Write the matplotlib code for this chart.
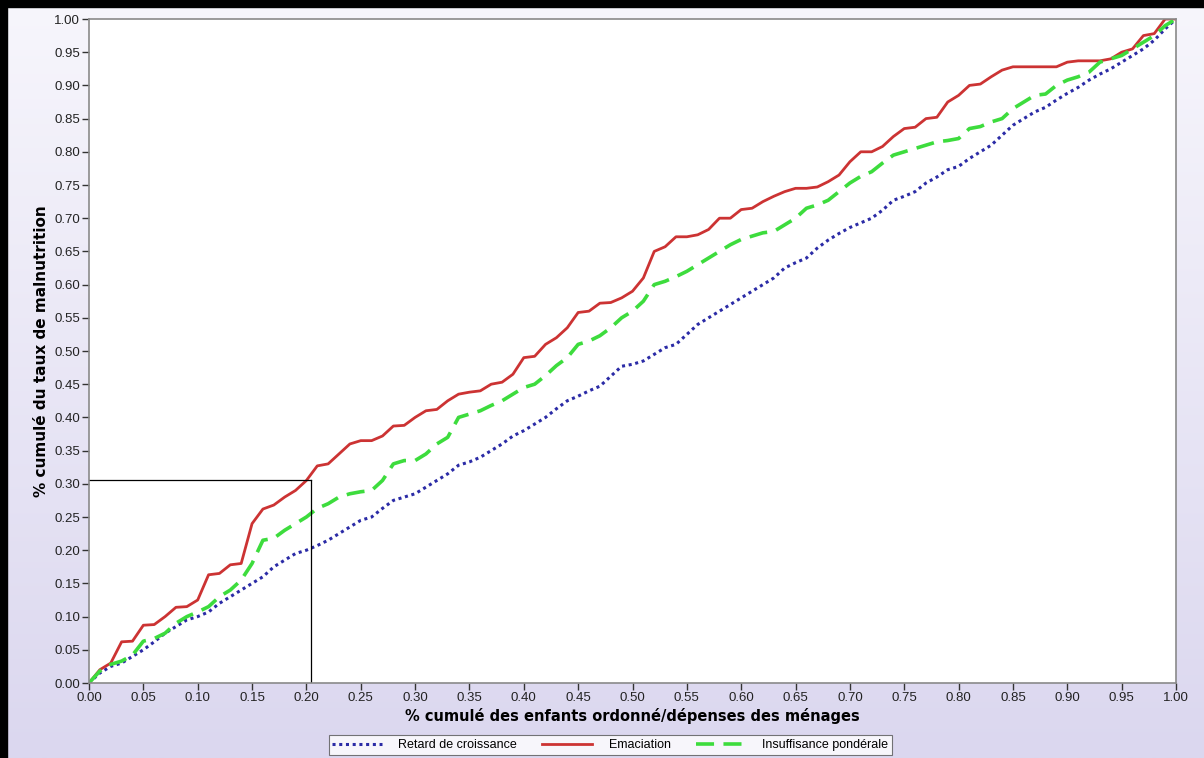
import numpy as np
import matplotlib
matplotlib.use("Agg")
import matplotlib.pyplot as plt
from matplotlib.colors import LinearSegmentedColormap

x = [i / 100 for i in range(101)]

retard = [0, 0.015, 0.025, 0.03, 0.04, 0.05, 0.062, 0.075, 0.085, 0.095,
          0.10, 0.107, 0.12, 0.13, 0.14, 0.15, 0.16, 0.175, 0.185, 0.195,
          0.20, 0.207, 0.215, 0.225, 0.235, 0.245, 0.25, 0.263, 0.275, 0.28,
          0.285, 0.295, 0.305, 0.315, 0.328, 0.333, 0.34, 0.35, 0.36, 0.372,
          0.38, 0.39, 0.40, 0.413, 0.425, 0.432, 0.44, 0.447, 0.462, 0.477,
          0.48, 0.485, 0.495, 0.505, 0.51, 0.525, 0.54, 0.55, 0.56, 0.57,
          0.58, 0.59, 0.60, 0.61, 0.625, 0.633, 0.64, 0.655, 0.667, 0.677,
          0.686, 0.693, 0.70, 0.712, 0.727, 0.733, 0.74, 0.753, 0.762, 0.773,
          0.778, 0.79, 0.80, 0.81, 0.825, 0.84, 0.85, 0.86, 0.867, 0.878,
          0.888, 0.897, 0.908, 0.917, 0.925, 0.935, 0.945, 0.955, 0.968, 0.985,
          1.0]

emaciation = [0, 0.02, 0.03, 0.062, 0.063, 0.087, 0.088, 0.10, 0.114, 0.115,
              0.125, 0.163, 0.165, 0.178, 0.18, 0.24, 0.262, 0.268, 0.28, 0.29,
              0.305, 0.327, 0.33, 0.345, 0.36, 0.365, 0.365, 0.372, 0.387, 0.388,
              0.40, 0.41, 0.412, 0.425, 0.435, 0.438, 0.44, 0.45, 0.453, 0.465,
              0.49, 0.492, 0.51, 0.52, 0.535, 0.558, 0.56, 0.572, 0.573, 0.58,
              0.59, 0.61, 0.65, 0.657, 0.672, 0.672, 0.675, 0.683, 0.70, 0.70,
              0.713, 0.715, 0.725, 0.733, 0.74, 0.745, 0.745, 0.747, 0.755, 0.765,
              0.785, 0.80, 0.80, 0.808, 0.823, 0.835, 0.837, 0.85, 0.852, 0.875,
              0.885, 0.90, 0.902, 0.913, 0.923, 0.928, 0.928, 0.928, 0.928, 0.928,
              0.935, 0.937, 0.937, 0.937, 0.94, 0.95, 0.955, 0.975, 0.978, 1.0,
              1.0]

insuffisance = [0, 0.018, 0.028, 0.033, 0.042, 0.063, 0.067, 0.075, 0.09, 0.10,
                0.107, 0.115, 0.13, 0.14, 0.155, 0.18, 0.215, 0.218, 0.23, 0.24,
                0.25, 0.263, 0.27, 0.28, 0.285, 0.288, 0.29, 0.305, 0.33, 0.335,
                0.335, 0.345, 0.36, 0.37, 0.40, 0.405, 0.41, 0.418, 0.425, 0.435,
                0.445, 0.45, 0.463, 0.478, 0.49, 0.51, 0.515, 0.523, 0.535, 0.55,
                0.56, 0.575, 0.60, 0.605, 0.612, 0.62, 0.63, 0.64, 0.65, 0.66,
                0.668, 0.673, 0.678, 0.68, 0.69, 0.70, 0.715, 0.72, 0.727, 0.74,
                0.753, 0.763, 0.77, 0.783, 0.795, 0.80, 0.805, 0.81, 0.815, 0.817,
                0.82, 0.835, 0.838, 0.845, 0.85, 0.865, 0.875, 0.885, 0.887, 0.90,
                0.908, 0.913, 0.92, 0.935, 0.94, 0.945, 0.955, 0.965, 0.975, 0.99,
                1.0]

ref_x = 0.204
ref_y = 0.306

ticks = [i * 0.05 for i in range(21)]
tick_labels = [f"{t:.2f}" for t in ticks]

series_names = ["Retard de croissance", "Emaciation", "Insuffisance pondérale"]

fig = plt.figure(figsize=(12.04, 7.58), dpi=100)

# background gradient
bg = fig.add_axes([0, 0, 1, 1], zorder=-10)
cmap = LinearSegmentedColormap.from_list("bg", ["#f7f6fc", "#dbd7ef"])
grad = np.linspace(0, 1, 256).reshape(-1, 1)
bg.imshow(grad, aspect="auto", cmap=cmap, extent=[0, 1, 0, 1], origin="upper")
bg.set_xlim(0, 1)
bg.set_ylim(0, 1)
bg.axis("off")
bg.add_patch(plt.Rectangle((0, 0), 7 / 1204, 1, color="black", transform=bg.transAxes))
bg.add_patch(plt.Rectangle((0, 1 - 7 / 758), 1, 7 / 758, color="black", transform=bg.transAxes))

ax = fig.add_axes([89 / 1204, 1 - 683 / 758, (1176 - 89) / 1204, (683 - 19) / 758])
ax.set_facecolor("white")

ax.plot(x, retard, color="#2b2ba6", lw=2.2, linestyle=(0, (1, 1.2)), label=series_names[0])
ax.plot(x, emaciation, color="#cc3333", lw=2.0, label=series_names[1])
ax.plot(x, insuffisance, color="#3ddc3d", lw=2.6, linestyle=(0, (5, 2.6)), label=series_names[2])

ax.plot([0, ref_x], [ref_y, ref_y], color="black", lw=0.9)
ax.plot([ref_x, ref_x], [0, ref_y], color="black", lw=0.9)

ax.set_xlim(0, 1)
ax.set_ylim(0, 1)
ax.set_xticks(ticks)
ax.set_xticklabels(tick_labels)
ax.set_yticks(ticks)
ax.set_yticklabels(tick_labels)
for s in ax.spines.values():
    s.set_color("#8a8a8a")
    s.set_linewidth(1.2)
ax.tick_params(direction="out", length=5, width=1, color="#333333",
               labelsize=9.5, pad=1.5)
for lab in ax.get_xticklabels() + ax.get_yticklabels():
    lab.set_family("Liberation Sans")
    lab.set_color("#222222")

ax.set_xlabel("% cumulé des enfants ordonné/dépenses des ménages",
              fontsize=10.5, fontweight="bold", family="DejaVu Sans", labelpad=3)
ax.set_ylabel("% cumulé du taux de malnutrition",
              fontsize=11, fontweight="bold", family="DejaVu Sans", labelpad=4)

leg = fig.legend(loc="center", bbox_to_anchor=(610 / 1204, 1 - 745 / 758), ncol=3,
                 frameon=True, fancybox=False, handlelength=4,
                 columnspacing=2.0, borderpad=0.3, handletextpad=1.3,
                 prop={"family": "Liberation Sans", "size": 9})
leg.get_frame().set_edgecolor("#555555")
leg.get_frame().set_linewidth(0.8)

fig.savefig("out.png", dpi=100)
